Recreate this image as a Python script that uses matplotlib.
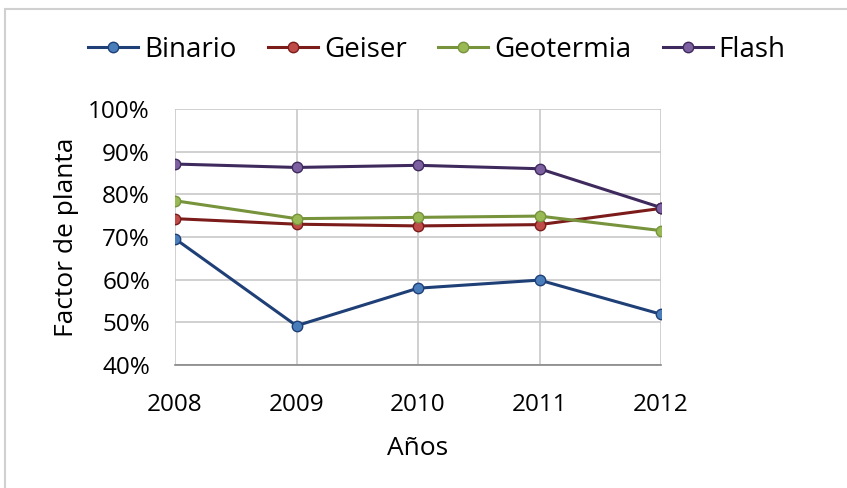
import matplotlib.pyplot as plt
from matplotlib.patches import Rectangle

plt.rcParams['font.family'] = ['Open Sans', 'DejaVu Sans']

years = ['2008', '2009', '2010', '2011', '2012']
binario = [69.6, 49.2, 58.0, 59.9, 51.9]
geiser = [74.3, 73.0, 72.6, 72.9, 76.7]
geotermia = [78.5, 74.3, 74.6, 74.9, 71.5]
flash = [87.1, 86.3, 86.8, 86.0, 76.9]

series = [
    ('Binario', binario, '#1F3F77', '#4A7EBB'),
    ('Geiser', geiser, '#7B1C1A', '#BE4B48'),
    ('Geotermia', geotermia, '#77933C', '#98B954'),
    ('Flash', flash, '#3F2A5E', '#7D60A0'),
]

fig = plt.figure(figsize=(8.47, 4.88), dpi=100)
ax = fig.add_axes([175/847, 1 - 365/488, (661-175)/847, (365-109)/488])

x = range(len(years))
for name, vals, lc, mc in series:
    ax.plot(x, vals, color=lc, linewidth=2.2, marker='o', markersize=7.5,
            markerfacecolor=mc, markeredgecolor=lc, markeredgewidth=1, label=name)

ax.set_xlim(0, len(years) - 1)
ax.set_ylim(40, 100)
ax.set_yticks(range(40, 101, 10))
ax.set_yticklabels([f'{v}%' for v in range(40, 101, 10)])
ax.set_xticks(list(x))
ax.set_xticklabels(years)
ax.grid(True, color='#C8C8C8', linewidth=1.2)
ax.set_axisbelow(True)
for s in ['top', 'right', 'left']:
    ax.spines[s].set_visible(False)
ax.spines['bottom'].set_color('#868686')
ax.spines['bottom'].set_linewidth(1.2)
ax.tick_params(length=0, labelsize=17.5, colors='black')
ax.tick_params(axis='x', pad=20)
ax.tick_params(axis='y', pad=18)

ax.set_xlabel('Años', fontsize=19, labelpad=14)
ax.set_ylabel('Factor de planta', fontsize=19, labelpad=7)

fig.legend(loc='center', bbox_to_anchor=(437/847, 1 - 50/488), ncol=4, frameon=False,
           fontsize=20, handlelength=1.8, handletextpad=0.2, columnspacing=1.15)

fig.patches.append(Rectangle((5/847, -0.1), 1.2, 1 - 9/488 + 0.1, transform=fig.transFigure,
                             fill=False, edgecolor='#D0D0D0', linewidth=1.5))

fig.savefig('out.png', dpi=100)
